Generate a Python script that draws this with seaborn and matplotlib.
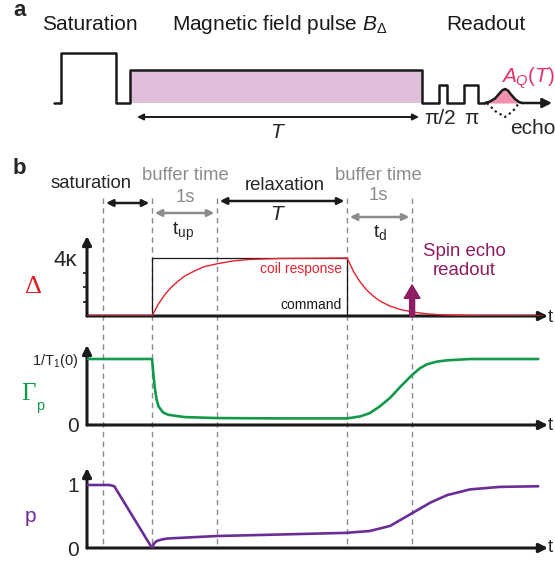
import matplotlib
matplotlib.use("Agg")
import matplotlib.pyplot as plt
import matplotlib.transforms as mtrans
import seaborn as sns

sns.set_theme(style="white")
plt.rcParams['font.family'] = ['Liberation Sans', 'DejaVu Sans']
plt.rcParams['mathtext.fontset'] = 'custom'
plt.rcParams['mathtext.rm'] = 'Liberation Sans'
plt.rcParams['mathtext.it'] = 'Liberation Sans:italic'
plt.rcParams['mathtext.bf'] = 'Liberation Sans:bold'

# ---- panel a: pulse sequence (arbitrary time units, levels relative) ----
seq_t = [5.4, 6.1, 6.1, 11.6, 11.6, 13.0, 13.0, 42.2, 42.2, 43.9, 43.9, 44.7, 44.7,
         46.4, 46.4, 47.8, 47.8, 48.5]
seq_v = [0, 0, 1.0, 1.0, 0, 0, 0.66, 0.66, 0, 0, 0.36, 0.36, 0, 0, 0.36, 0.36, 0, 0]
field_t = [13.0, 42.2]
field_v = [0.66, 0.66]
echo_t = [48.5, 49.0, 49.5, 49.9, 50.2, 50.5, 50.8, 51.1, 51.5, 51.9, 52.2]
echo_v = [0, 0.03, 0.09, 0.18, 0.25, 0.28, 0.25, 0.17, 0.08, 0.02, 0]
ghost_t = [48.7, 49.5, 50.5, 51.3, 51.9]
ghost_v = [0, -0.16, -0.28, -0.16, 0]
T_span = [13.7, 41.9]

# ---- panel b: time in s ----
phases = [0.25, 1.0, 2.0, 4.0, 5.0]
t_end = 7.09
cmd_t = [0, 1.0, 1.0, 4.0, 4.0, 7.0]
cmd_v = [0, 0, 4, 4, 0, 0]
coil_t = [0, 1.0, 1.1, 1.2, 1.3, 1.4, 1.5, 1.65, 1.8, 2.0, 2.25, 2.5, 3.0, 4.0,
          4.1, 4.2, 4.3, 4.4, 4.5, 4.65, 4.8, 5.0, 5.25, 5.5, 6.0, 7.0]
coil_v = [0, 0, 0.84, 1.5, 2.0, 2.4, 2.75, 3.1, 3.4, 3.6, 3.8, 3.9, 3.97, 4.0,
          3.06, 2.35, 1.8, 1.38, 1.05, 0.7, 0.47, 0.28, 0.14, 0.07, 0.015, 0]
readout_t, readout_v = 5.0, 2.14
gam_t = [0, 1.0, 1.02, 1.04, 1.07, 1.1, 1.17, 1.25, 1.5, 2.0, 3.0, 4.0, 4.2, 4.35,
         4.5, 4.66, 4.82, 4.98, 5.12, 5.23, 5.38, 5.54, 5.9, 6.94]
gam_v = [1, 1, 0.78, 0.58, 0.39, 0.28, 0.19, 0.155, 0.12, 0.105, 0.1, 0.1, 0.13,
         0.18, 0.28, 0.41, 0.58, 0.74, 0.86, 0.92, 0.96, 0.98, 1.0, 1.0]
pol_t = [0, 0.35, 0.42, 1.0, 1.03, 1.07, 1.15, 1.23, 1.51, 2.0, 3.0, 3.98, 4.35,
         4.66, 4.98, 5.28, 5.54, 5.89, 6.35, 6.94]
pol_v = [1, 1, 0.98, 0, 0.07, 0.11, 0.135, 0.15, 0.165, 0.19, 0.215, 0.24, 0.27,
         0.35, 0.54, 0.72, 0.84, 0.93, 0.97, 0.98]

RED = '#E4222B'
GREEN = '#12994A'
PURPLE = '#6A2D96'
MAGENTA = '#8E1C62'
GRAY = '#8C8C8C'
PINK = '#DFBFDA'
ECHO = '#F291AB'
AQ = '#E8336A'

W, H = 555, 563
fig = plt.figure(figsize=(W / 100, H / 100), dpi=100)


def box(x0, y0, x1, y1):
    return fig.add_axes([x0 / W, 1 - y1 / H, (x1 - x0) / W, (y1 - y0) / H])


canvas = box(0, 0, W, H)
canvas.set_xlim(0, W)
canvas.set_ylim(H, 0)
canvas.axis('off')
canvas.set_zorder(0)

# ---------------- panel a ----------------
ax_a = box(0, 40, W, 140)
ax_a.set_xlim(0, 55.5)
ax_a.set_ylim(-0.74, 1.26)
ax_a.axis('off')
ax_a.fill_between(field_t, 0, field_v, color=PINK, lw=0)
ax_a.fill_between(echo_t, 0, echo_v, color=ECHO, lw=0)
sns.lineplot(x=seq_t, y=seq_v, ax=ax_a, color='#1a1a1a', lw=1.8,
             estimator=None, sort=False)
sns.lineplot(x=echo_t, y=echo_v, ax=ax_a, color='#1a1a1a', lw=1.8,
             estimator=None, sort=False)
ax_a.plot(ghost_t, ghost_v, color='#1a1a1a', lw=1.6, ls=(0, (1, 1.5)))
ax_a.annotate('', xy=(55.2, 0), xytext=(echo_t[-1], 0),
              arrowprops=dict(arrowstyle='-|>', lw=1.8, color='#1a1a1a',
                              mutation_scale=14, shrinkA=0, shrinkB=0))
ax_a.annotate('', xy=(T_span[1], -0.28), xytext=(T_span[0], -0.28),
              arrowprops=dict(arrowstyle='<|-|>', lw=1.4, color='#1a1a1a',
                              mutation_scale=9, shrinkA=0, shrinkB=0))

fig.text(13 / W, 1 - 11 / H, 'a', fontsize=16, fontweight='bold', va='center')
canvas.text(89.5, 25, 'Saturation', ha='center', va='center', fontsize=15, color='#1a1a1a')
canvas.text(172, 25, r'Magnetic field pulse $B_{\Delta}$', ha='left', va='center',
            fontsize=15, color='#1a1a1a')
canvas.text(486, 25, 'Readout', ha='center', va='center', fontsize=15, color='#1a1a1a')
canvas.text(276, 132, 'T', ha='center', va='center', fontsize=15, style='italic')
canvas.text(440, 118, 'π/2', ha='center', va='center', fontsize=15)
canvas.text(471, 118, 'π', ha='center', va='center', fontsize=15)
canvas.text(510, 128, 'echo', ha='left', va='center', fontsize=15)
canvas.text(501, 78, r'$A_Q(T)$', ha='left', va='center', fontsize=15, color=AQ)

# ---------------- panel b ----------------
ax_d = box(87, 236, 548, 316)
ax_g = box(87, 345, 548, 425)
ax_p = box(87, 468, 548, 548)
ax_d.set_ylim(0, 4 * 80 / 58)
ax_g.set_ylim(0, 80 / 66)
ax_p.set_ylim(0, 80 / 63)

for ax in (ax_d, ax_g, ax_p):
    ax.set_facecolor('none')
    ax.set_zorder(2)
    for s in ax.spines.values():
        s.set_visible(False)
    ax.set_xlim(0, t_end)
    ax.set_xticks([])
    ax.set_xlabel('')
    ax.set_ylabel('')
    for xy in ((1, 0), (0, 1)):
        ax.annotate('', xy=xy, xytext=(0, 0), xycoords='axes fraction',
                    arrowprops=dict(arrowstyle='-|>', lw=2.2, color='k',
                                    mutation_scale=13, shrinkA=0, shrinkB=0),
                    annotation_clip=False, zorder=1.5)

# Delta axes
ax_d.set_yticks([4])
ax_d.set_yticklabels(['4κ'])
ax_d.set_yticks([1, 2, 3], minor=True)
ax_d.tick_params(axis='y', which='major', direction='in', length=10, width=2,
                 color='k', labelsize=16, pad=7)
ax_d.tick_params(axis='y', which='minor', direction='out', length=3, width=1.2,
                 color='k', left=True)
sns.lineplot(x=cmd_t, y=cmd_v, ax=ax_d, color='k', lw=0.9, estimator=None, sort=False)
sns.lineplot(x=coil_t, y=coil_v, ax=ax_d, color=RED, lw=1.0, estimator=None,
             sort=False, zorder=3)
ax_d.annotate('', xy=(readout_t, readout_v), xytext=(readout_t, 0),
              arrowprops=dict(arrowstyle='simple,head_length=0.8,head_width=0.95,tail_width=0.3',
                              mutation_scale=12, color=MAGENTA, shrinkA=0, shrinkB=0),
              zorder=4)

# Gamma_p axes
ax_g.set_yticks([0, 1])
ax_g.set_yticklabels(['0', r'1/T$_1$(0)'])
ax_g.tick_params(axis='y', direction='in', length=10, width=2, color='k',
                 labelsize=15, pad=6)
ax_g.get_yticklabels()[1].set_fontsize(10.5)
sns.lineplot(x=gam_t, y=gam_v, ax=ax_g, color=GREEN, lw=1.9, estimator=None, sort=False)

# p axes
ax_p.set_yticks([0, 1])
ax_p.set_yticklabels(['0', '1'])
ax_p.tick_params(axis='y', direction='in', length=0, labelsize=15, pad=6)
sns.lineplot(x=pol_t, y=pol_v, ax=ax_p, color=PURPLE, lw=1.9, estimator=None, sort=False)

# phase markers and headers (x in time units, y in pixels)
blend = mtrans.blended_transform_factory(ax_d.transData, canvas.transData)
for t in phases:
    canvas.plot([t, t], [198, 544], transform=blend, color=GRAY, lw=1.0,
                ls=(0, (4, 3)))

def span_arrow(t0, t1, y, color):
    canvas.annotate('', xy=(t1, y), xytext=(t0, y), xycoords=blend,
                    arrowprops=dict(arrowstyle='<|-|>', lw=1.8, color=color,
                                    mutation_scale=10, shrinkA=2, shrinkB=2))

span_arrow(phases[0], phases[1], 203, '#1a1a1a')
span_arrow(phases[1], phases[2], 213, GRAY)
span_arrow(phases[2], phases[3], 201, '#1a1a1a')
span_arrow(phases[3], phases[4], 217, GRAY)

fig.text(13 / W, 1 - 168 / H, 'b', fontsize=16, fontweight='bold', va='center')
canvas.text(91.5, 183, 'saturation', ha='center', va='center', fontsize=13.3)
canvas.text(185, 175, 'buffer time', ha='center', va='center', fontsize=13.3, color=GRAY)
canvas.text(378.5, 175, 'buffer time', ha='center', va='center', fontsize=13.3, color=GRAY)
canvas.text(285, 185, 'relaxation', ha='center', va='center', fontsize=13.3)
canvas.text(185, 197, '1s', ha='center', va='center', fontsize=13.3, color=GRAY)
canvas.text(378, 196, '1s', ha='center', va='center', fontsize=13.3, color=GRAY)
canvas.text(276, 215, 'T', ha='center', va='center', fontsize=15, style='italic')
canvas.text(183, 232, r't$_{\mathrm{up}}$', ha='center', va='center', fontsize=14)
canvas.text(380, 232, r't$_{\mathrm{d}}$', ha='center', va='center', fontsize=14)
canvas.text(342, 269, 'coil response', ha='right', va='center', fontsize=10, color=RED)
canvas.text(342, 305, 'command', ha='right', va='center', fontsize=10, color='#1a1a1a')
canvas.text(464, 261, 'Spin echo\nreadout', ha='center', va='center', fontsize=13.4,
            color=MAGENTA, linespacing=1.15)
canvas.text(33, 287, 'Δ', ha='center', va='center', fontsize=19, color=RED,
            family='Liberation Serif')
canvas.text(28.5, 394, 'Γ', ha='center', va='center', fontsize=18, color=GREEN,
            family='Liberation Serif')
canvas.text(40, 406, 'p', ha='center', va='center', fontsize=10.5, color=GREEN)
canvas.text(30, 516, 'p', ha='center', va='center', fontsize=15, color=PURPLE)
for y in (317, 425, 548):
    canvas.text(548, y, 't', ha='left', va='center', fontsize=13.5)

fig.savefig('out.png', dpi=100)
